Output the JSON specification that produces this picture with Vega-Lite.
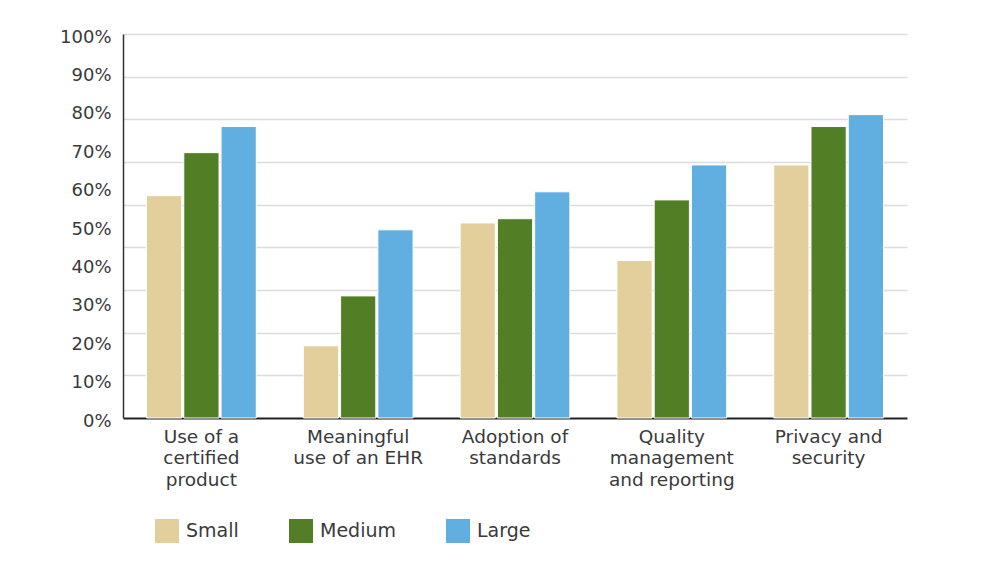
{
  "$schema": "https://vega.github.io/schema/vega-lite/v6.json",
  "width": 784,
  "height": 384,
  "autosize": {"type": "none"},
  "padding": {"left": 123, "top": 34, "right": 78, "bottom": 153},
  "background": "white",
  "data": {
    "values": [
      {"measure": "Use of a certified product", "size": "Small", "pct": 57.9},
      {"measure": "Use of a certified product", "size": "Medium", "pct": 69.1},
      {"measure": "Use of a certified product", "size": "Large", "pct": 75.9},
      {"measure": "Meaningful use of an EHR", "size": "Small", "pct": 18.8},
      {"measure": "Meaningful use of an EHR", "size": "Medium", "pct": 31.8},
      {"measure": "Meaningful use of an EHR", "size": "Large", "pct": 49.0},
      {"measure": "Adoption of standards", "size": "Small", "pct": 50.8},
      {"measure": "Adoption of standards", "size": "Medium", "pct": 51.9},
      {"measure": "Adoption of standards", "size": "Large", "pct": 58.9},
      {"measure": "Quality management and reporting", "size": "Small", "pct": 41.0},
      {"measure": "Quality management and reporting", "size": "Medium", "pct": 56.8},
      {"measure": "Quality management and reporting", "size": "Large", "pct": 65.9},
      {"measure": "Privacy and security", "size": "Small", "pct": 65.9},
      {"measure": "Privacy and security", "size": "Medium", "pct": 75.9},
      {"measure": "Privacy and security", "size": "Large", "pct": 79.0}
    ]
  },
  "encoding": {
    "x": {
      "field": "measure",
      "type": "nominal",
      "sort": null,
      "title": null,
      "scale": {"paddingInner": 0.3, "paddingOuter": 0.15},
      "axis": {
        "labelAngle": 0,
        "labelFont": "DejaVu Sans",
        "labelFontSize": 18.5,
        "labelColor": "#3a3a3a",
        "labelPadding": 9,
        "labelLineHeight": 21.5,
        "labelBaseline": "top",
        "ticks": false,
        "domainColor": "#222222",
        "domainWidth": 2,
        "labelExpr": "datum.value == 'Use of a certified product' ? ['Use of a', 'certified', 'product'] : datum.value == 'Meaningful use of an EHR' ? ['Meaningful', 'use of an EHR'] : datum.value == 'Adoption of standards' ? ['Adoption of', 'standards'] : datum.value == 'Quality management and reporting' ? ['Quality', 'management', 'and reporting'] : ['Privacy and', 'security']"
      }
    },
    "xOffset": {
      "field": "size",
      "type": "nominal",
      "sort": ["Small", "Medium", "Large"],
      "scale": {"paddingInner": 0.055, "paddingOuter": 0}
    }
  },
  "layer": [
    {
      "mark": {"type": "bar", "opacity": 0},
      "encoding": {
        "y": {
          "field": "pct",
          "type": "quantitative",
          "title": null,
          "scale": {"domain": [0, 100], "nice": false},
          "axis": {
            "orient": "left",
            "values": [11.111, 22.222, 33.333, 44.444, 55.556, 66.667, 77.778, 88.889, 100],
            "labels": false,
            "ticks": false,
            "domain": false,
            "grid": true,
            "gridColor": "#dcdcdc",
            "gridWidth": 1.5,
            "zindex": 0
          }
        }
      }
    },
    {
      "mark": {"type": "bar", "stroke": "white", "strokeWidth": 1},
      "encoding": {
        "y": {
          "field": "pct",
          "type": "quantitative",
          "title": null,
          "scale": {"domain": [0, 100], "nice": false},
          "axis": {
            "orient": "left",
            "values": [0, 10, 20, 30, 40, 50, 60, 70, 80, 90, 100],
            "labelExpr": "datum.value + '%'",
            "labelFont": "DejaVu Sans",
            "labelFontSize": 18,
            "labelColor": "#3a3a3a",
            "labelPadding": 12,
            "labelOffset": 3,
            "ticks": false,
            "grid": false,
            "domainColor": "#333333",
            "domainWidth": 1.5,
            "zindex": 1
          }
        },
        "color": {
          "field": "size",
          "type": "nominal",
          "sort": ["Small", "Medium", "Large"],
          "scale": {"domain": ["Small", "Medium", "Large"], "range": ["#E2CF9C", "#527E26", "#61AEE0"]},
          "legend": {
            "title": null,
            "orient": "none",
            "legendX": 32,
            "legendY": 485,
            "direction": "horizontal",
            "symbolType": "square",
            "symbolSize": 576,
            "symbolStrokeWidth": 0,
            "symbolOpacity": 1,
            "labelFont": "DejaVu Sans",
            "labelFontSize": 19,
            "labelColor": "#3a3a3a",
            "labelOffset": 7,
            "columnPadding": 50
          }
        }
      }
    }
  ],
  "resolve": {"axis": {"y": "independent"}},
  "config": {"view": {"stroke": null}}
}
